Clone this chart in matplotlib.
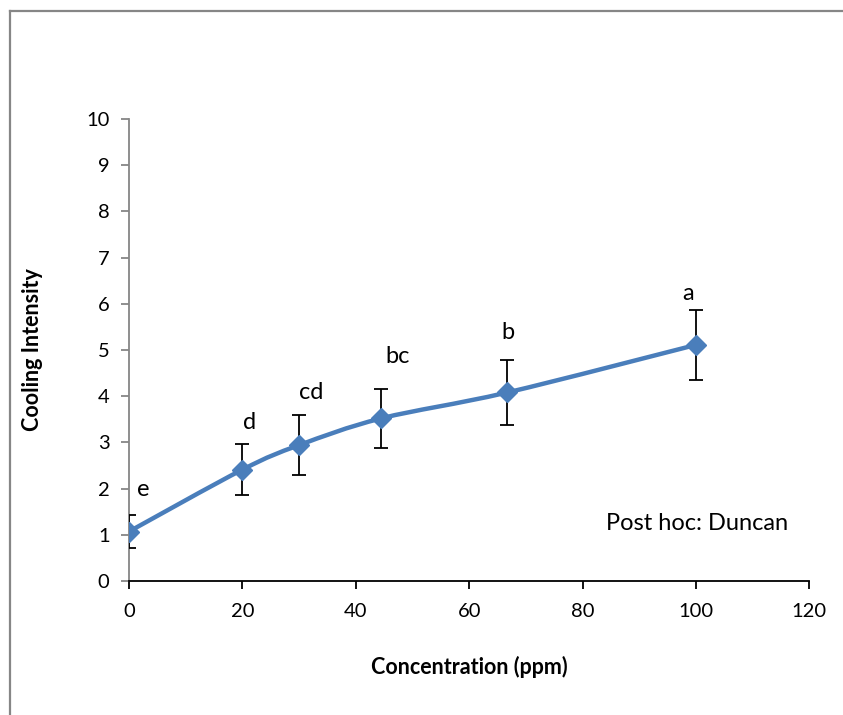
import matplotlib
matplotlib.use("Agg")
import matplotlib.pyplot as plt
from matplotlib.path import Path
from matplotlib.patches import PathPatch
from matplotlib.lines import Line2D
import numpy as np

concentration = [0, 20, 30, 44.5, 66.7, 100]
intensity = [1.07, 2.41, 2.94, 3.52, 4.08, 5.11]
err = [0.35, 0.55, 0.65, 0.64, 0.71, 0.75]
letters = ["e", "d", "cd", "bc", "b", "a"]
letter_pos = [(2.6, 1.97), (21.2, 3.42), (32.1, 4.07), (47.3, 4.85), (66.9, 5.37), (98.6, 6.23)]
xticks = [0, 20, 40, 60, 80, 100, 120]
yticks = list(range(0, 11))

plt.rcParams['font.family'] = ['Lato', 'DejaVu Sans']
blue = "#4A7EBB"
gray = "#868686"

fig = plt.figure(figsize=(8.43, 7.15), dpi=100)
ax = fig.add_axes([0.153, 0.1874, 0.807, 0.6462])

# smooth line (Catmull-Rom bezier, Excel-like)
x = np.array(concentration, float); y = np.array(intensity, float)
verts = [(x[0], y[0])]; codes = [Path.MOVETO]
t = 1/6
for i in range(len(x) - 1):
    p0 = (x[max(i-1, 0)], y[max(i-1, 0)])
    p1 = (x[i], y[i]); p2 = (x[i+1], y[i+1])
    p3 = (x[min(i+2, len(x)-1)], y[min(i+2, len(x)-1)])
    c1 = (p1[0] + (p2[0]-p0[0])*t, p1[1] + (p2[1]-p0[1])*t)
    c2 = (p2[0] - (p3[0]-p1[0])*t, p2[1] - (p3[1]-p1[1])*t)
    verts += [c1, c2, p2]; codes += [Path.CURVE4]*3
ax.add_patch(PathPatch(Path(verts, codes), facecolor='none', edgecolor=blue, lw=3.2, zorder=2))

ax.errorbar(concentration, intensity, yerr=err, fmt='none', ecolor='black',
            elinewidth=1.3, capsize=5, capthick=1.3, zorder=3)
ax.plot(concentration, intensity, linestyle='none', marker='D', ms=10.5, color=blue, zorder=4)

for lab, (lx, ly) in zip(letters, letter_pos):
    ax.text(lx, ly, lab, ha='center', va='center', fontsize=17)

ax.text(100.2, 1.25, "Post hoc: Duncan", ha='center', va='center', fontsize=17)

ax.set_xlim(0, 120); ax.set_ylim(0, 10)
ax.set_xticks(xticks); ax.set_yticks(yticks)
for s in ['top', 'right']:
    ax.spines[s].set_visible(False)
ax.spines['left'].set_color(gray); ax.spines['left'].set_linewidth(1.3)
ax.spines['bottom'].set_color('black'); ax.spines['bottom'].set_linewidth(1.3)
ax.tick_params(axis='y', direction='out', length=6, width=1.3, color=gray, labelsize=14.5, pad=8)
ax.tick_params(axis='x', direction='out', length=6, width=1.3, color='black', labelsize=14.5, pad=10)
ax.set_xlabel("Concentration (ppm)", fontsize=15.5, fontweight='bold')
ax.set_ylabel("Cooling Intensity", fontsize=15.5, fontweight='bold')
ax.xaxis.set_label_coords(0.5, -0.163)
ax.yaxis.set_label_coords(-0.127, 0.5)

fig.add_artist(Line2D([9.5/843, 9.5/843], [0, 1-11/715], color=gray, lw=1.6, transform=fig.transFigure))
fig.add_artist(Line2D([9.5/843, 1], [1-11/715, 1-11/715], color=gray, lw=1.6, transform=fig.transFigure))

fig.savefig("out.png", dpi=100)
